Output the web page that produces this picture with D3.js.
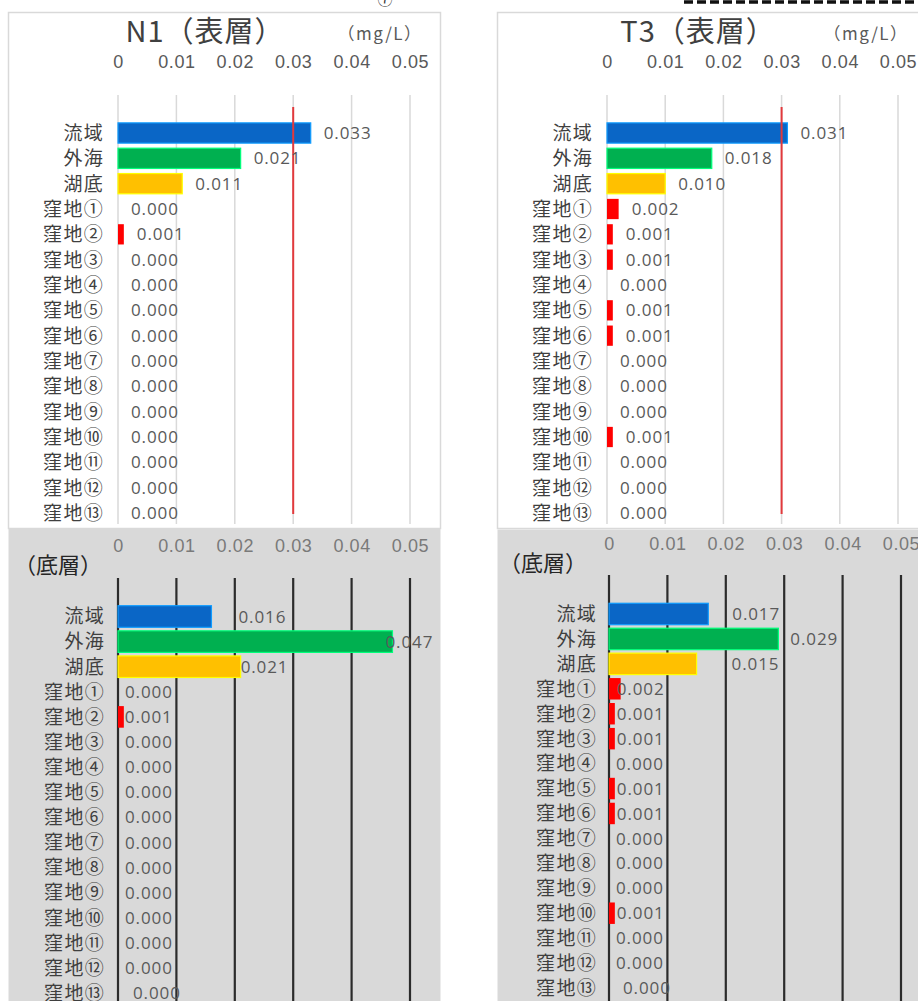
<!DOCTYPE html>
<html>
<head>
<meta charset="utf-8">
<script src="https://cdn.jsdelivr.net/npm/d3@7"></script>
<style>
  body { margin: 0; background: #fff; }
  svg { display: block; font-family: "Open Sans", "Noto Sans CJK JP", sans-serif; }
</style>
</head>
<body>
<svg id="chart" width="918" height="1001"></svg>
<script>
// ---- data ----
const categories = ["流域", "外海", "湖底", "窪地①", "窪地②", "窪地③", "窪地④", "窪地⑤",
  "窪地⑥", "窪地⑦", "窪地⑧", "窪地⑨", "窪地⑩", "窪地⑪", "窪地⑫", "窪地⑬"];

const n1Surface = [0.033, 0.021, 0.011, 0.000, 0.001, 0.000, 0.000, 0.000,
  0.000, 0.000, 0.000, 0.000, 0.000, 0.000, 0.000, 0.000];
const n1Bottom = [0.016, 0.047, 0.021, 0.000, 0.001, 0.000, 0.000, 0.000,
  0.000, 0.000, 0.000, 0.000, 0.000, 0.000, 0.000, 0.000];
const t3Surface = [0.031, 0.018, 0.010, 0.002, 0.001, 0.001, 0.000, 0.001,
  0.001, 0.000, 0.000, 0.000, 0.001, 0.000, 0.000, 0.000];
const t3Bottom = [0.017, 0.029, 0.015, 0.002, 0.001, 0.001, 0.000, 0.001,
  0.001, 0.000, 0.000, 0.000, 0.001, 0.000, 0.000, 0.000];

const tickValues = [0, 0.01, 0.02, 0.03, 0.04, 0.05];
const tickLabels = ["0", "0.01", "0.02", "0.03", "0.04", "0.05"];
const referenceValue = 0.03;
const surfaceTitles = ["N1（表層）", "T3（表層）"];
const bottomTitle = "（底層）";
const unitLabel = "（mg/L）";

// ---- styles ----
const sourceColors = ["#0a66c6", "#00b050", "#ffc000"];
const depressionColor = "#ff0000";
const colorOf = i => i < 3 ? sourceColors[i] : depressionColor;
const fmt = d3.format(".3f");

const svg = d3.select("#chart");

// Panel layout
const panels = [
  { values: n1Surface, kind: "surface", title: surfaceTitles[0],
    frame: [8, 12, 432, 516], xr: [118, 410], grid: [95, 524], refLine: [107, 514],
    tickY: 68, titleX: 205, unitX: 380, rows: [133, 513], catX: 104,
    gap: 13, nudge: () => 0 },
  { values: t3Surface, kind: "surface", title: surfaceTitles[1],
    frame: [497, 12, 440, 516], xr: [607, 898], grid: [95, 524], refLine: [107, 514],
    tickY: 68, titleX: 698, unitX: 866, rows: [133, 513], catX: 593,
    gap: 13, nudge: () => 0 },
  { values: n1Bottom, kind: "bottom",
    frame: [8, 528, 432, 473], xr: [118, 410], grid: [578, 1001],
    tickY: 552, subX: 14, subY: 573, rows: [616.5, 993], catX: 105,
    gap: 7, nudge: (v, i) => [20, -14, -7][i] ?? (i === 15 ? 8 : (v > 0 ? -6 : 0)) },
  { values: t3Bottom, kind: "bottom",
    frame: [497, 529, 421, 472], xr: [609, 901], grid: [575, 1001],
    tickY: 550, subX: 499, subY: 571, rows: [614, 988], catX: 597,
    gap: 7, nudge: (v, i) => [17, 5, 28][i] ?? (i === 15 ? 7 : (v >= 0.002 ? -11 : v > 0 ? -5 : 0)) }
];

panels.forEach(p => {
  const g = svg.append("g");
  const surface = p.kind === "surface";
  const [fx, fy, fw, fh] = p.frame;

  // background frame
  g.append("rect")
    .attr("x", fx + 0.5).attr("y", fy + 0.5)
    .attr("width", fw).attr("height", fh)
    .attr("fill", surface ? "#ffffff" : "#d9d9d9")
    .attr("stroke", surface ? "#d9d9d9" : "none")
    .attr("stroke-width", 1.5);

  const x = d3.scaleLinear().domain([0, 0.05]).range(p.xr);
  const step = (p.rows[1] - p.rows[0]) / (categories.length - 1);
  const y = d3.scaleBand().domain(categories)
    .range([p.rows[0] - step / 2, p.rows[1] + step / 2])
    .paddingInner(surface ? 0.2 : 0.14).paddingOuter(surface ? 0.1 : 0.07);

  // vertical gridlines
  g.append("g").selectAll("line").data(tickValues).join("line")
    .attr("x1", d => x(d)).attr("x2", d => x(d))
    .attr("y1", p.grid[0]).attr("y2", p.grid[1])
    .attr("stroke", surface ? "#d9d9d9" : "#2b2b2b")
    .attr("stroke-width", surface ? 1.5 : 2.2);

  // tick labels along the top
  const axis = d3.axisTop(x).tickValues(tickValues)
    .tickFormat((d, i) => tickLabels[i]).tickSize(0).tickPadding(0);
  const ax = g.append("g").attr("transform", `translate(0,${p.tickY})`).call(axis);
  ax.select(".domain").remove();
  ax.selectAll("text")
    .attr("fill", surface ? "#595959" : "#7a7a7a")
    .attr("font-size", 18).attr("letter-spacing", 0.6);

  // bars
  g.append("g").selectAll("rect").data(p.values).join("rect")
    .attr("x", x(0))
    .attr("y", (d, i) => y(categories[i]))
    .attr("width", d => x(d) - x(0))
    .attr("height", y.bandwidth())
    .attr("fill", (d, i) => colorOf(i))
    .attr("stroke", (d, i) => i < 3 ? d3.color(colorOf(i)).brighter(1.2) : "none")
    .attr("stroke-width", 1.2);

  // 0.03 mg/L reference line on the surface charts
  if (surface) {
    g.append("line")
      .attr("x1", x(referenceValue)).attr("x2", x(referenceValue))
      .attr("y1", p.refLine[0]).attr("y2", p.refLine[1])
      .attr("stroke", "#e2393c").attr("stroke-width", 2);
  }

  // value labels
  g.append("g").selectAll("text").data(p.values).join("text")
    .attr("x", (d, i) => x(d) + p.gap + p.nudge(d, i))
    .attr("y", (d, i) => y(categories[i]) + y.bandwidth() / 2)
    .attr("dy", "0.36em")
    .attr("font-size", 17).attr("letter-spacing", 0.9)
    .attr("fill", "#595959")
    .text(d => fmt(d));

  // category labels
  const cat = d3.axisLeft(y).tickSize(0).tickPadding(0);
  const cg = g.append("g").attr("transform", `translate(${p.catX},0)`).call(cat);
  cg.select(".domain").remove();
  cg.selectAll("text")
    .attr("font-family", "'Noto Sans CJK JP', sans-serif")
    .attr("font-size", 19).attr("letter-spacing", 1.3)
    .attr("fill", "#3f3f3f").attr("dy", "0.36em");

  // titles
  if (surface) {
    g.append("text")
      .attr("x", p.titleX).attr("y", 42)
      .attr("text-anchor", "middle")
      .attr("font-family", "'Noto Sans CJK JP', sans-serif")
      .attr("font-size", 29).attr("letter-spacing", 1)
      .attr("fill", "#404040")
      .text(p.title);
    g.append("text")
      .attr("x", p.unitX).attr("y", 40)
      .attr("text-anchor", "middle")
      .attr("font-family", "'Noto Sans CJK JP', sans-serif")
      .attr("font-size", 17).attr("letter-spacing", 1.5)
      .attr("fill", "#595959")
      .text(unitLabel);
  } else {
    g.append("text")
      .attr("x", p.subX).attr("y", p.subY)
      .attr("font-family", "'Noto Sans CJK JP', sans-serif")
      .attr("font-size", 22)
      .attr("fill", "#262626")
      .text(bottomTitle);
  }
});

// edge of a neighbouring callout and a marker cut off at the top
svg.append("line")
  .attr("x1", 684).attr("x2", 918).attr("y1", 2).attr("y2", 2)
  .attr("stroke", "#111").attr("stroke-width", 3.5)
  .attr("stroke-dasharray", "9,4");
svg.append("text")
  .attr("x", 385).attr("y", 5).attr("text-anchor", "middle")
  .attr("font-family", "'Noto Sans CJK JP', sans-serif")
  .attr("font-size", 15).attr("fill", "#333")
  .text("⑦");
</script>
</body>
</html>
